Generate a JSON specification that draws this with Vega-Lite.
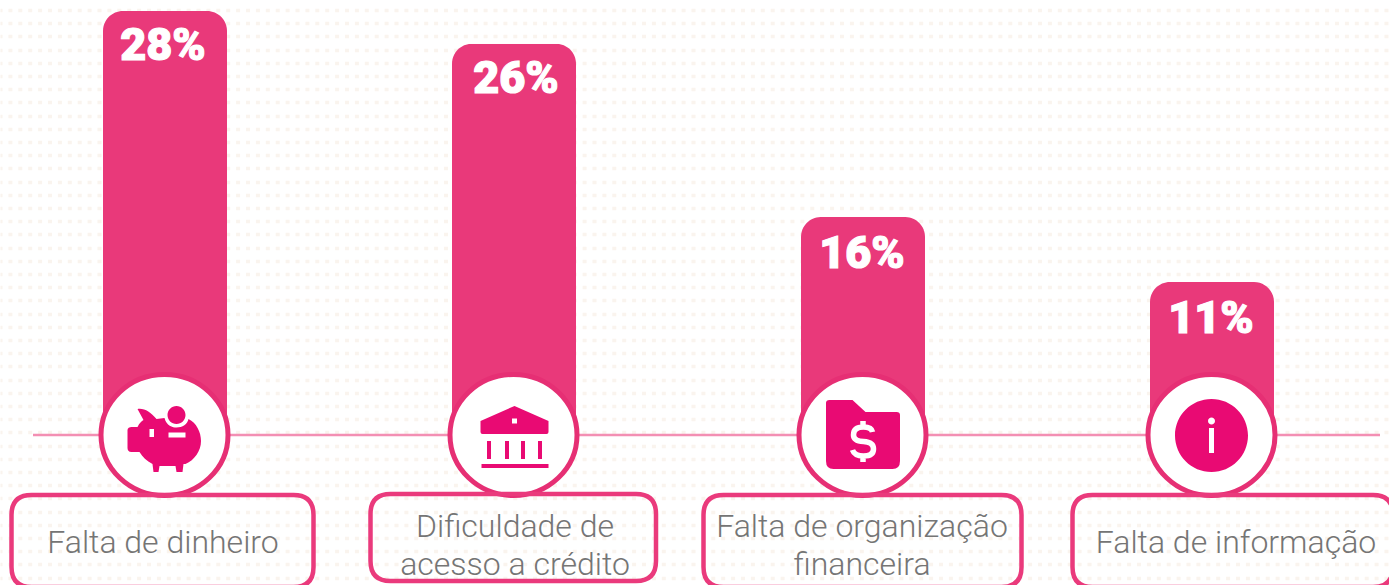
{
"$schema":"https://vega.github.io/schema/vega-lite/v6.json",
"width":1389,"height":585,"padding":0,"autosize":{"type":"none"},"background":"#ffffff",
"config":{"view":{"stroke":null}},
"data":{"values":[
{"causa":"Falta de dinheiro","valor":28,"barra":28.0,"rotulo":"28%","linhas":["Falta de dinheiro"]},
{"causa":"Dificuldade de acesso a crédito","valor":26,"barra":25.85,"rotulo":"26%","linhas":["Dificuldade de","acesso a crédito"]},
{"causa":"Falta de organização financeira","valor":16,"barra":14.4,"rotulo":"16%","linhas":["Falta de organização","financeira"]},
{"causa":"Falta de informação","valor":11,"barra":10.1,"rotulo":"11%","linhas":["Falta de informação"]}
]},
"resolve":{"scale":{"x":"independent","shape":"independent"},"axis":{"y":"independent","x":"independent"}},
"layer":[
{"data":{"values":[{"inicio":0,"fim":1}]},
 "mark":{"type":"rule","opacity":0},
 "encoding":{
  "x":{"field":"inicio","type":"quantitative","axis":null,"scale":{"domain":[0,1],"range":[0,1389]}},
  "x2":{"field":"fim"},
  "y":{"datum":0,"type":"quantitative","scale":{"domain":[-9.9078,28.733],"nice":false,"zero":false},
   "axis":{"title":null,"labels":false,"ticks":false,"domain":false,"grid":true,"gridColor":"#faf4ee","gridWidth":3.5,"gridDash":[4,5.9],"gridDashOffset":2,"zindex":0,
    "values":[28.07,27.2,26.33,25.46,24.58,23.71,22.84,21.97,21.1,20.22,19.35,18.48,17.61,16.74,15.86,14.99,14.12,13.25,12.38,11.51,10.63,9.76,8.89,8.02,7.14,6.27,5.4,4.53,3.66,2.79,1.91,1.04,0.17,-0.7,-1.57,-2.44,-3.32,-4.19,-5.06,-5.93,-6.81,-7.68,-8.55,-9.42]}}
 }},
{"mark":{"type":"bar","color":"#e9397a","width":124,"cornerRadiusTopLeft":20,"cornerRadiusTopRight":20},
 "encoding":{
  "x":{"field":"causa","type":"nominal","sort":null,"axis":null,"scale":{"type":"point","padding":0,"range":[165,1212]}},
  "y":{"field":"barra","type":"quantitative","axis":null}
 }},
{"data":{"values":[{"inicio":0,"fim":1}]},
 "mark":{"type":"rule","color":"#f38fb3","strokeWidth":2.5},
 "encoding":{
  "x":{"field":"inicio","type":"quantitative","axis":null,"scale":{"domain":[0,1],"range":[33,1380]}},
  "x2":{"field":"fim"},
  "y":{"datum":0,"type":"quantitative","axis":null}
 }},
{"mark":{"type":"point","filled":false,"fill":"#ffffff","fillOpacity":1,"stroke":"#e62f74","strokeWidth":5,"strokeOpacity":1,"opacity":1,"size":4,
  "shape":"M63.5 0 C63.5 33.4 35.1 60.5 0 60.5 C-35.1 60.5 -63.5 33.4 -63.5 0 C-63.5 -33.4 -35.1 -60.5 0 -60.5 C35.1 -60.5 63.5 -33.4 63.5 0 Z"},
 "encoding":{
  "x":{"field":"causa","type":"nominal","sort":null,"axis":null,"scale":{"type":"point","padding":0,"range":[164.5,1211.5]}},
  "y":{"datum":0,"type":"quantitative","axis":null}
 }},
{"mark":{"type":"point","filled":true,"color":"#e90a73","opacity":1,"size":4},
 "encoding":{
  "x":{"field":"causa","type":"nominal","sort":null,"axis":null,"scale":{"type":"point","padding":0,"range":[164.5,1211.5]}},
  "y":{"datum":0,"type":"quantitative","axis":null},
  "shape":{"field":"causa","type":"nominal","sort":null,"legend":null,"scale":{"range":[
   "M-27 -26 C-20 -27 -14 -23 -8 -16 L0 -17 C2 -9 8 -7.5 12 -7.5 C18 -7.5 23 -11 24 -16 C32 -12 36.5 -3 36.5 6 C36.5 16 30 25 21 29 L19 29 L18 37 L12 37 L11 31 L-5 31 L-6 37 L-11 37 L-12 29 C-18 26 -22 22 -25 17 L-33 17 C-36 17 -37 15 -37 13 L-37 -5 C-37 -7 -35 -8 -33 -8 L-27 -8 C-25 -12 -23 -14 -21 -15 Z M-15 -6 L-15 2 L-10.5 2 L-10.5 -6 Z M4 -2.5 L4 2.5 L21 2.5 L21 -2.5 Z M3 -20 C3 -25 7 -29 12 -29 C17 -29 21 -25 21 -20 C21 -15 17 -11 12 -11 C7 -11 3 -15 3 -20 Z",
   "M1 -29 L35 -14 L35 -3 Q35 -1 33 -1 L-31 -1 Q-33 -1 -33 -3 L-33 -14 Z M-1.5 -16.5 L-1.5 -11.5 L3.5 -11.5 L3.5 -16.5 Z M-26.5 6 L-22.5 6 L-22.5 24 L-26.5 24 Z M-8.5 6 L-4.5 6 L-4.5 24 L-8.5 24 Z M7.5 6 L11.5 6 L11.5 24 L7.5 24 Z M24.5 6 L28.5 6 L28.5 24 L24.5 24 Z M-32 29 L35 29 L35 33 L-32 33 Z",
   "M-33 -35 L-10 -35 L3 -23 L34 -23 Q37.5 -23 37.5 -20 L37.5 26 Q37.5 34 30 34 L-29 34 Q-36.5 34 -36.5 26 L-36.5 -32 Q-36.5 -35 -33 -35 Z",
   "M-36.5 0.5 C-36.5 -19.7 -20.2 -36 0 -36 C20.2 -36 36.5 -19.7 36.5 0.5 C36.5 20.7 20.2 37 0 37 C-20.2 37 -36.5 20.7 -36.5 0.5 Z M-2.5 -7 L-2.5 18 L2.5 18 L2.5 -7 Z M-3.5 -14 C-3.5 -12 -1.8 -10.5 0 -10.5 C1.8 -10.5 3.5 -12 3.5 -14 C3.5 -16 1.8 -17.5 0 -17.5 C-1.8 -17.5 -3.5 -16 -3.5 -14 Z"
  ]}}
 }},
{"transform":[{"filter":"datum.valor === 16"}],
 "mark":{"type":"point","filled":false,"stroke":"#ffffff","strokeWidth":5.5,"opacity":1,"size":4,
  "shape":"M10 -3 Q9 -8 1 -8 Q-9 -8 -9 0 Q-9 6 1 6.5 Q11 7 11 14 Q11 21 1 21 Q-8 21 -10 15 M0.5 -14 L0.5 -8 M0.5 21 L0.5 27"},
 "encoding":{
  "x":{"field":"causa","type":"nominal","sort":null,"axis":null,"scale":{"type":"point","padding":0,"range":[862.5,862.5]}},
  "y":{"datum":0,"type":"quantitative","axis":null}
 }},
{"mark":{"type":"point","filled":false,"fill":"#ffffff","fillOpacity":0,"stroke":"#ea3a7c","strokeWidth":4.5,"opacity":1,"size":4},
 "encoding":{
  "x":{"field":"causa","type":"nominal","sort":null,"axis":null,"scale":{"type":"point","padding":0,"range":[164.5,1211.5]}},
  "y":{"datum":0,"type":"quantitative","axis":null},
  "shape":{"field":"causa","type":"nominal","sort":null,"legend":null,"scale":{"range":[
   "M-133 60 L129 60 Q149 60 149 80 L149 132 Q149 152 129 152 L-133 152 Q-153 152 -153 132 L-153 80 Q-153 60 -133 60 Z",
   "M-123 59 L122.5 59 Q142.5 59 142.5 79 L142.5 126 Q142.5 146 122.5 146 L-123 146 Q-143 146 -143 126 L-143 79 Q-143 59 -123 59 Z",
   "M-139 60 L139 60 Q159 60 159 80 L159 132 Q159 152 139 152 L-139 152 Q-159 152 -159 132 L-159 80 Q-159 60 -139 60 Z",
   "M-119 60 L161.5 60 Q181.5 60 181.5 80 L181.5 132 Q181.5 152 161.5 152 L-119 152 Q-139 152 -139 132 L-139 80 Q-139 60 -119 60 Z"
  ]}}
 }},
{"transform":[{"filter":"datum.valor >= 26"}],
 "mark":{"type":"text","color":"#ffffff","stroke":"#ffffff","strokeWidth":1.2,"font":"Roboto","fontWeight":900,"fontSize":45,"baseline":"middle","dy":35},
 "encoding":{
  "x":{"field":"causa","type":"nominal","sort":null,"axis":null,"scale":{"type":"point","padding":0,"range":[163,516]}},
  "y":{"field":"barra","type":"quantitative","axis":null},
  "text":{"field":"rotulo","type":"nominal"}
 }},
{"transform":[{"filter":"datum.valor < 26"}],
 "mark":{"type":"text","color":"#ffffff","stroke":"#ffffff","strokeWidth":1.2,"font":"Roboto","fontWeight":900,"fontSize":45,"baseline":"middle","dy":37},
 "encoding":{
  "x":{"field":"causa","type":"nominal","sort":null,"axis":null,"scale":{"type":"point","padding":0,"range":[862,1211]}},
  "y":{"field":"barra","type":"quantitative","axis":null},
  "text":{"field":"rotulo","type":"nominal"}
 }},
{"transform":[{"filter":"datum.valor === 26 || datum.valor === 16"}],
 "mark":{"type":"text","color":"#757575","font":"Roboto","fontWeight":300,"fontSize":32,"lineHeight":38,"baseline":"middle","dy":92},
 "encoding":{
  "x":{"field":"causa","type":"nominal","sort":null,"axis":null,"scale":{"type":"point","padding":0,"range":[515,862]}},
  "y":{"datum":0,"type":"quantitative","axis":null},
  "text":{"field":"linhas","type":"nominal"}
 }},
{"transform":[{"filter":"datum.valor === 28 || datum.valor === 11"}],
 "mark":{"type":"text","color":"#757575","font":"Roboto","fontWeight":300,"fontSize":32,"baseline":"middle","dy":108},
 "encoding":{
  "x":{"field":"causa","type":"nominal","sort":null,"axis":null,"scale":{"type":"point","padding":0,"range":[163,1236]}},
  "y":{"datum":0,"type":"quantitative","axis":null},
  "text":{"field":"linhas","type":"nominal"}
 }}
]
}
